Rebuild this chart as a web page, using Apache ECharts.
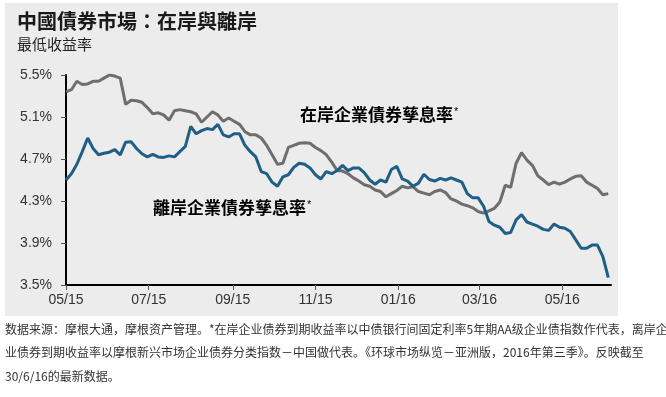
<!DOCTYPE html>
<html>
<head>
<meta charset="utf-8">
<style>
  html, body { margin: 0; padding: 0; background: #fff; }
  #chart { width: 666px; height: 397px; }
</style>
<script src="https://cdn.jsdelivr.net/npm/echarts@6/dist/echarts.min.js"></script>
</head>
<body>
<div id="chart"></div>
<script>
// 每4天取一个点，从 2015-05-01 开始
var dayStep = 4;

// 在岸企業債券孳息率 (%)
var onshoreYield = [
  5.34, 5.36, 5.44, 5.41, 5.415, 5.44, 5.44, 5.47, 5.50, 5.49,
  5.47, 5.22, 5.26, 5.255, 5.24, 5.19, 5.13, 5.14, 5.12, 5.07,
  5.16, 5.17, 5.16, 5.15, 5.13, 5.05, 5.10, 5.15, 5.12, 5.06,
  5.09, 5.06, 5.03, 4.96, 4.93, 4.93, 4.90, 4.83, 4.74, 4.65,
  4.66, 4.81, 4.83, 4.85, 4.855, 4.85, 4.81, 4.78, 4.74, 4.67,
  4.59, 4.585, 4.56, 4.52, 4.49, 4.455, 4.44, 4.405, 4.39, 4.34,
  4.37, 4.40, 4.44, 4.425, 4.435, 4.39, 4.375, 4.36, 4.39, 4.405,
  4.38, 4.32, 4.30, 4.27, 4.255, 4.235, 4.20, 4.185, 4.205, 4.23,
  4.29, 4.45, 4.43, 4.66, 4.76, 4.69, 4.64, 4.54, 4.50, 4.455,
  4.48, 4.46, 4.48, 4.51, 4.535, 4.54, 4.48, 4.45, 4.42, 4.36,
  4.37
];

// 離岸企業債券孳息率 (%)
var offshoreYield = [
  4.50, 4.56, 4.65, 4.77, 4.90, 4.80, 4.74, 4.755, 4.765, 4.79,
  4.74, 4.86, 4.865, 4.80, 4.75, 4.72, 4.745, 4.72, 4.715, 4.73,
  4.72, 4.77, 4.82, 5.01, 4.94, 4.97, 4.99, 4.98, 5.03, 4.93,
  4.91, 4.94, 4.94, 4.83, 4.77, 4.72, 4.58, 4.56, 4.48, 4.44,
  4.53, 4.55, 4.62, 4.66, 4.65, 4.615, 4.55, 4.51, 4.58, 4.56,
  4.59, 4.64, 4.59, 4.615, 4.615, 4.57, 4.50, 4.46, 4.50, 4.48,
  4.60, 4.63, 4.51, 4.49, 4.44, 4.47, 4.555, 4.505, 4.49, 4.515,
  4.50, 4.52, 4.50, 4.48, 4.37, 4.33, 4.33, 4.25, 4.105, 4.07,
  4.05, 3.99, 4.00, 4.12, 4.17, 4.10, 4.08, 4.06, 4.03, 4.02,
  4.08, 4.05, 4.04, 4.01, 3.93, 3.85, 3.85, 3.88, 3.88, 3.77,
  3.57
];

// 坐标轴刻度
var xTickDays = [0, 61, 123, 184, 245, 305, 366];
var xTickLabels = ['05/15', '07/15', '09/15', '11/15', '01/16', '03/16', '05/16'];
var yTicks = [3.5, 3.9, 4.3, 4.7, 5.1, 5.5];

var footerLines = [
  '数据来源：摩根大通，摩根资产管理。*在岸企业债券到期收益率以中债银行间固定利率5年期AA级企业债指数作代表，离岸企',
  '业债券到期收益率以摩根新兴市场企业债券分类指数－中国做代表。《环球市场纵览－亚洲版，2016年第三季》。反映截至',
  '30/6/16的最新数据。'
];

function toPairs(arr) {
  var out = [];
  for (var i = 0; i < arr.length; i++) {
    out.push([i * dayStep, arr[i]]);
  }
  return out;
}

var chart = echarts.init(document.getElementById('chart'));

var footerGraphics = footerLines.map(function (line, i) {
  return {
    type: 'text',
    left: 5,
    top: 323 + i * 23.5,
    silent: true,
    style: {
      text: line,
      fill: '#333',
      font: '12px "Noto Sans CJK SC"'
    }
  };
});

var option = {
  backgroundColor: '#fff',
  animation: false,
  title: {
    text: '中國債券市場：在岸與離岸',
    subtext: '最低收益率',
    left: 12,
    top: 6,
    itemGap: 6,
    textStyle: {
      fontFamily: 'Noto Sans CJK TC',
      fontWeight: 'bold',
      fontSize: 20,
      color: '#1a1a1a'
    },
    subtextStyle: {
      fontFamily: 'Noto Sans CJK TC',
      fontSize: 15,
      color: '#222'
    }
  },
  grid: {
    left: 66,
    right: 55,
    top: 75,
    bottom: 112
  },
  xAxis: {
    type: 'value',
    min: 0,
    max: 402,
    splitLine: { show: false },
    axisLine: { lineStyle: { color: '#000', width: 2 } },
    axisTick: {
      customValues: xTickDays,
      length: 5,
      lineStyle: { color: '#555', width: 1 }
    },
    axisLabel: {
      customValues: xTickDays,
      margin: 8,
      fontFamily: 'Liberation Sans',
      fontSize: 14,
      color: '#333',
      formatter: function (v) {
        var idx = xTickDays.indexOf(v);
        return idx >= 0 ? xTickLabels[idx] : '';
      }
    }
  },
  yAxis: {
    type: 'value',
    min: 3.5,
    max: 5.5,
    splitLine: { show: false },
    axisLine: { show: true, lineStyle: { color: '#000', width: 2 } },
    axisTick: {
      show: true,
      customValues: yTicks,
      length: 5,
      lineStyle: { color: '#555', width: 1 }
    },
    axisLabel: {
      customValues: yTicks,
      margin: 14,
      fontFamily: 'Liberation Sans',
      fontSize: 14,
      color: '#333',
      formatter: function (v) {
        return v.toFixed(1) + '%';
      }
    }
  },
  series: [
    {
      name: '在岸企業債券孳息率',
      type: 'line',
      data: toPairs(onshoreYield),
      showSymbol: false,
      symbol: 'none',
      lineStyle: { color: '#6e6e6e', width: 3 }
    },
    {
      name: '離岸企業債券孳息率',
      type: 'line',
      data: toPairs(offshoreYield),
      showSymbol: false,
      symbol: 'none',
      lineStyle: { color: '#1f5f86', width: 3 }
    }
  ],
  graphic: [
    {
      type: 'rect',
      z: -10,
      silent: true,
      shape: { x: 5, y: 3, width: 613, height: 313 },
      style: { fill: '#ececec' }
    },
    {
      type: 'text',
      left: 300,
      top: 106,
      silent: true,
      style: {
        text: '{a|在岸企業債券孳息率}{s|*}',
        rich: {
          a: { fontFamily: 'Noto Sans CJK TC', fontWeight: 'bold', fontSize: 17, color: '#6b6b6b' },
          s: { fontFamily: 'Liberation Sans', fontSize: 11, color: '#6b6b6b', verticalAlign: 'top', padding: [0, 0, 6, 1] }
        }
      }
    },
    {
      type: 'text',
      left: 153,
      top: 199,
      silent: true,
      style: {
        text: '{a|離岸企業債券孳息率}{s|*}',
        rich: {
          a: { fontFamily: 'Noto Sans CJK TC', fontWeight: 'bold', fontSize: 17, color: '#1f5f86' },
          s: { fontFamily: 'Liberation Sans', fontSize: 11, color: '#1f5f86', verticalAlign: 'top', padding: [0, 0, 6, 1] }
        }
      }
    }
  ].concat(footerGraphics)
};

chart.setOption(option);
</script>
</body>
</html>
